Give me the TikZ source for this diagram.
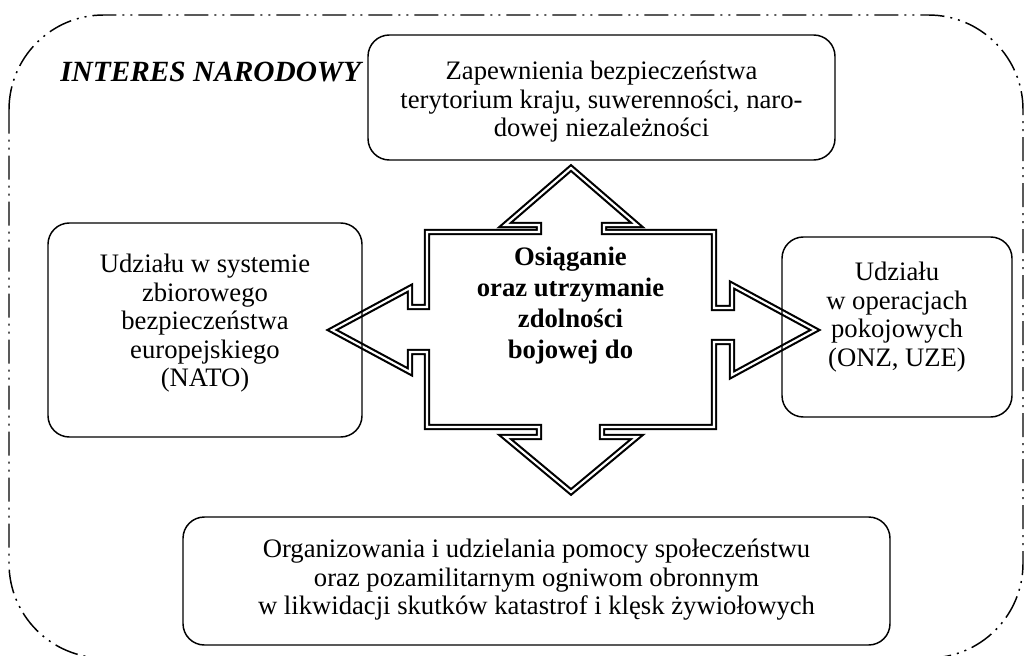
\documentclass[tikz,border=0pt]{standalone}
\usepackage{fontspec}
\setmainfont{Liberation Serif}
\begin{document}
\begin{tikzpicture}[x=0.75pt,y=-0.75pt,
  box/.style={draw, line width=1.1pt, rounded corners=16pt, inner sep=0pt},
  txt/.style={inner sep=0pt, align=center, anchor=north, font=\fontsize{20pt}{21.4pt}\selectfont},
  ctrtxt/.style={inner sep=0pt, align=center, anchor=north, font=\fontsize{20pt}{23.2pt}\selectfont\bfseries},
  titletxt/.style={inner sep=0pt, anchor=base west, font=\fontsize{22pt}{24pt}\selectfont\bfseries\itshape},
  arrowshape/.style={draw, double, double distance=1.6pt, line width=1.6pt, line join=miter},
  border/.style={draw, line width=1.1pt, rounded corners=71pt,
    dash pattern=on 18pt off 4.5pt on 1.5pt off 4.5pt on 1.5pt off 4.5pt}]
\useasboundingbox (0,0) rectangle (1024,656);
% outer national-interest frame
\path[border] (9,15) rectangle (1023,658);
\node[titletxt] (title) at (60,82) {INTERES NARODOWY};
% four-way arrow
\draw[arrowshape] (571,168) -- (637,225) -- (604,225) -- (604,232) -- (714,232)
  -- (714,308) -- (732,308) -- (732,285) -- (815,330) -- (732,375) -- (732,342)
  -- (714,342) -- (714,427) -- (602,427) -- (602,437) -- (637,437) -- (571,492)
  -- (505,437) -- (539,437) -- (539,427) -- (427,427) -- (427,352) -- (410,352)
  -- (410,372) -- (332,330) -- (410,288) -- (410,307) -- (427,307) -- (427,232)
  -- (539,232) -- (539,225) -- (505,225) -- cycle;
\node[ctrtxt] (center) at (570.5,247) {Osiąganie\\oraz utrzymanie\\zdolności\\bojowej do};
% boxes
\node[box, minimum width=350.25pt, minimum height=93.75pt] (topbox) at (601.5,97.5) {};
\node[txt] (toptext) at (601.5,61) {Zapewnienia bezpieczeństwa\\terytorium kraju, suwerenności, naro-\\dowej niezależności};
\node[box, minimum width=235.5pt, minimum height=160.5pt] (leftbox) at (205,330) {};
\node[txt] (lefttext) at (205,254) {Udziału w systemie\\zbiorowego\\bezpieczeństwa\\europejskiego\\(NATO)};
\node[box, minimum width=172.5pt, minimum height=135pt] (rightbox) at (897,327) {};
\node[txt] (righttext) at (897,262) {Udziału\\w operacjach\\pokojowych\\(ONZ, UZE)};
\node[box, minimum width=530.25pt, minimum height=96pt] (bottombox) at (536.5,581) {};
\node[txt] (bottomtext) at (536.5,539) {Organizowania i udzielania pomocy społeczeństwu\\oraz pozamilitarnym ogniwom obronnym\\w likwidacji skutków katastrof i klęsk żywiołowych};
\end{tikzpicture}
\end{document}
